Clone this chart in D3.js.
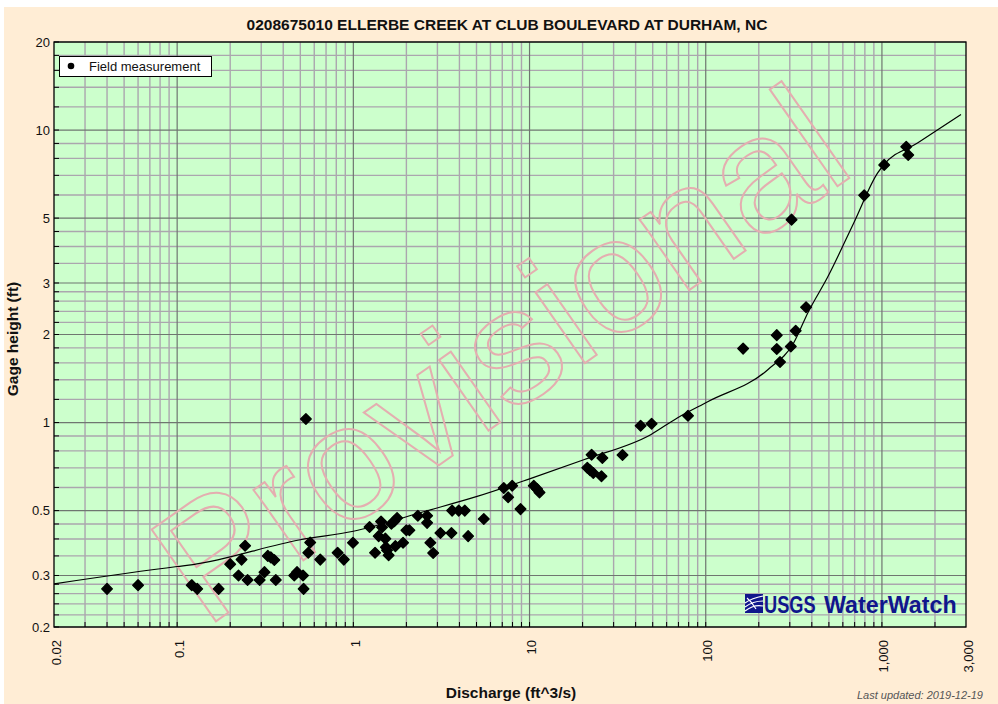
<!DOCTYPE html>
<html lang="en">
<head>
<meta charset="UTF-8">
<title>Ellerbe Creek rating</title>
<script src="https://d3js.org/d3.v7.min.js"></script>
<style>
  body { margin: 0; background: #fff; }
  text { font-family: "Liberation Sans", Arial, sans-serif; }
</style>
</head>
<body>
<svg width="998" height="704"></svg>
<script>
// field measurements (discharge ft^3/s, gage height ft)
const fieldQ = [0.040, 0.060, 0.121, 0.130, 0.172, 0.200, 0.223, 0.232, 0.243, 0.251,
  0.294, 0.313, 0.327, 0.340, 0.356, 0.363, 0.462, 0.479, 0.518, 0.522,
  0.538, 0.569, 0.555, 0.649, 0.814, 0.883, 0.995, 1.236, 1.328, 1.436,
  1.455, 1.392, 1.519, 1.644, 1.709, 1.771, 1.53, 1.553, 1.586, 1.732,
  1.915, 2.0, 2.08, 2.323, 2.622, 2.622, 2.736, 2.838, 3.12, 3.604,
  3.636, 3.963, 4.29, 4.483, 5.50, 7.14, 7.97, 7.56, 8.89, 10.57,
  11.03, 11.39, 22.5, 25.9, 21.27, 22.06, 23.0, 25.6, 33.7, 42.7,
  49.3, 79.3, 163, 253, 253, 264, 304, 324, 371, 307,
  793, 1030, 1374, 1410];
const fieldH = [0.270, 0.278, 0.278, 0.270, 0.270, 0.328, 0.300, 0.340, 0.379, 0.2895,
  0.2895, 0.308, 0.350, 0.346, 0.339, 0.2895, 0.300, 0.308, 0.300, 0.270,
  1.028, 0.389, 0.359, 0.340, 0.359, 0.340, 0.388, 0.4395, 0.359, 0.459,
  0.439, 0.409, 0.401, 0.451, 0.460, 0.472, 0.375, 0.366, 0.352, 0.378,
  0.388, 0.4285, 0.4285, 0.480, 0.480, 0.454, 0.388, 0.358, 0.419, 0.419,
  0.50, 0.50, 0.50, 0.409, 0.468, 0.597, 0.608, 0.5555, 0.506, 0.608,
  0.593, 0.577, 0.776, 0.757, 0.701, 0.687, 0.672, 0.655, 0.775, 0.975,
  0.991, 1.055, 1.79, 1.99, 1.784, 1.61, 1.82, 2.06, 2.48, 4.94,
  5.98, 7.60, 8.77, 8.22];

// rating curve
const ratingQ = [0.02, 0.1, 0.123, 0.5, 1.0, 2.62, 5.04, 10.1, 20.3, 48.7,
  69.3, 102.6, 225, 316, 380, 493, 693, 948, 1026, 1600, 2810];
const ratingH = [0.281, 0.322, 0.327, 0.3975, 0.425, 0.4995, 0.559, 0.643, 0.746, 0.909,
  1.039, 1.178, 1.516, 1.875, 2.375, 3.15, 4.82, 7.15, 7.61, 9.05, 11.3];

const xTickLabels = [0.02, 0.1, 1, 10, 100, 1000, 3000];
const xMajor = [0.1, 1, 10, 100, 1000];
const xMinor = [0.03, 0.04, 0.05, 0.06, 0.07, 0.08, 0.09,
  0.2, 0.3, 0.4, 0.5, 0.6, 0.7, 0.8, 0.9,
  2, 3, 4, 5, 6, 7, 8, 9,
  20, 30, 40, 50, 60, 70, 80, 90,
  200, 300, 400, 500, 600, 700, 800, 900, 2000];
const yTickLabels = [0.2, 0.3, 0.5, 1, 2, 3, 5, 10, 20];
const yMinor = [0.22, 0.24, 0.26, 0.28, 0.35, 0.4, 0.45, 0.6, 0.7, 0.8, 0.9,
  1.2, 1.4, 1.6, 1.8, 2.2, 2.4, 2.6, 2.8, 3.5, 4, 4.5, 6, 7, 8, 9,
  12, 14, 16, 18];

const svg = d3.select('svg');
const plotL = 54, plotR = 966, plotT = 42, plotB = 627;

const x = d3.scaleLog().domain([0.02, 3000]).range([plotL, plotR]);
const y = d3.scaleLog().domain([0.2, 20]).range([plotB, plotT]);

// page background
svg.append('rect').attr('x', 4).attr('y', 7).attr('width', 994).attr('height', 697)
  .attr('fill', '#ffedd5');

// plot area
svg.append('rect').attr('x', plotL).attr('y', plotT)
  .attr('width', plotR - plotL).attr('height', plotB - plotT)
  .attr('fill', '#ccffcc');

svg.append('clipPath').attr('id', 'plotclip')
  .append('rect').attr('x', plotL).attr('y', plotT)
  .attr('width', plotR - plotL).attr('height', plotB - plotT);

const grid = svg.append('g');
grid.selectAll('.xmin').data(xMinor).enter().append('line')
  .attr('x1', d => x(d)).attr('x2', d => x(d))
  .attr('y1', plotT).attr('y2', plotB)
  .attr('stroke', '#aba6ae').attr('stroke-width', 1.4);
grid.selectAll('.ymin').data(yMinor).enter().append('line')
  .attr('y1', d => y(d)).attr('y2', d => y(d))
  .attr('x1', plotL).attr('x2', plotR)
  .attr('stroke', '#aba6ae').attr('stroke-width', 1.4);
grid.selectAll('.xmaj').data(xMajor).enter().append('line')
  .attr('x1', d => x(d)).attr('x2', d => x(d))
  .attr('y1', plotT).attr('y2', plotB)
  .attr('stroke', '#6f7670').attr('stroke-width', 1.2);
grid.selectAll('.ymaj').data(yTickLabels).enter().append('line')
  .attr('y1', d => y(d)).attr('y2', d => y(d))
  .attr('x1', plotL).attr('x2', plotR)
  .attr('stroke', '#6f7670').attr('stroke-width', 1.2);

// provisional watermark
svg.append('g').attr('clip-path', 'url(#plotclip)')
  .append('text')
  .attr('transform', 'translate(205,629) rotate(-35)')
  .attr('font-size', 163)
  .attr('fill', 'none')
  .attr('stroke', '#e4aeb0')
  .attr('stroke-width', 2)
  .text('Provisional');

// inner ticks
const ticks = svg.append('g').attr('stroke', '#000');
ticks.selectAll('.yt').data(yTickLabels.concat(yMinor)).enter().append('line')
  .attr('x1', plotL).attr('x2', plotL + 5)
  .attr('y1', d => y(d)).attr('y2', d => y(d));
ticks.selectAll('.xt').data(xMajor.concat(xMinor)).enter().append('line')
  .attr('x1', d => x(d)).attr('x2', d => x(d))
  .attr('y1', plotB).attr('y2', plotB - 5);

// rating curve
const ratingPts = ratingQ.map((q, i) => [q, ratingH[i]]);
svg.append('path')
  .datum(ratingPts)
  .attr('clip-path', 'url(#plotclip)')
  .attr('fill', 'none')
  .attr('stroke', '#000')
  .attr('stroke-width', 1.2)
  .attr('d', d3.line().x(d => x(d[0])).y(d => y(d[1])).curve(d3.curveMonotoneX));

// field measurements
const diamond = 'M0,-5.3L5.3,0L0,5.3L-5.3,0Z';
svg.append('g').selectAll('path')
  .data(fieldQ.map((q, i) => [q, fieldH[i]]))
  .enter().append('path')
  .attr('d', diamond)
  .attr('transform', d => `translate(${x(d[0])},${y(d[1])})`)
  .attr('fill', '#000')
  .attr('stroke', '#000')
  .attr('stroke-linejoin', 'round')
  .attr('stroke-width', 1.4);

// frame
svg.append('rect').attr('x', plotL).attr('y', plotT)
  .attr('width', plotR - plotL).attr('height', plotB - plotT)
  .attr('fill', 'none').attr('stroke', '#000').attr('stroke-width', 1.3);

// tick labels
const fmt = d3.format(',');
svg.selectAll('.ylab').data(yTickLabels).enter().append('text')
  .attr('x', plotL - 4).attr('y', d => y(d)).attr('dy', '0.35em')
  .attr('text-anchor', 'end').attr('font-size', 13).attr('fill', '#111')
  .text(d => d);
svg.selectAll('.xlab').data(xTickLabels).enter().append('text')
  .attr('transform', d => `translate(${x(d) + 2},640) rotate(-90)`)
  .attr('dy', '0.35em')
  .attr('text-anchor', 'end').attr('font-size', 13).attr('fill', '#111')
  .text(d => fmt(d));

// titles
svg.append('text').attr('x', 507).attr('y', 30)
  .attr('text-anchor', 'middle').attr('font-size', 15.5).attr('font-weight', 'bold')
  .attr('fill', '#111')
  .text('0208675010 ELLERBE CREEK AT CLUB BOULEVARD AT DURHAM, NC');
svg.append('text').attr('x', 511).attr('y', 698)
  .attr('text-anchor', 'middle').attr('font-size', 15.5).attr('font-weight', 'bold')
  .attr('fill', '#111')
  .text('Discharge (ft^3/s)');
svg.append('text')
  .attr('transform', 'translate(18,339) rotate(-90)')
  .attr('text-anchor', 'middle').attr('font-size', 15.5).attr('font-weight', 'bold')
  .attr('fill', '#111')
  .text('Gage height (ft)');

svg.append('text').attr('x', 857).attr('y', 699)
  .attr('font-family', '"Liberation Mono", "DejaVu Sans Mono", monospace')
  .attr('font-style', 'italic').attr('font-size', 11).attr('fill', '#555')
  .text('Last updated: 2019-12-19');

// legend
const lg = svg.append('g');
lg.append('rect').attr('x', 59.5).attr('y', 56.5).attr('width', 152).attr('height', 20)
  .attr('fill', '#fff').attr('stroke', '#000');
lg.append('circle').attr('cx', 71).attr('cy', 66).attr('r', 3.3).attr('fill', '#000');
lg.append('text').attr('x', 89).attr('y', 71).attr('font-size', 13).attr('fill', '#111')
  .text('Field measurement');

// USGS WaterWatch logo
const logo = svg.append('g');
logo.append('rect').attr('x', 745).attr('y', 594).attr('width', 18).attr('height', 19)
  .attr('fill', '#10168c');
logo.append('path')
  .attr('d', 'M745,603 Q752,598 763,596 M745,607 Q753,601 763,601 M745,611 Q754,604 763,606 M747,598 Q752,602 756,609')
  .attr('fill', 'none').attr('stroke', '#fff').attr('stroke-width', 1.2);
logo.append('text')
  .attr('transform', 'translate(764,613) scale(0.76,1)')
  .attr('font-size', 24).attr('font-weight', 'bold').attr('fill', '#10168c')
  .text('USGS');
logo.append('text')
  .attr('transform', 'translate(824,613) scale(0.97,1)')
  .attr('font-size', 24).attr('font-weight', 'bold').attr('fill', '#10168c')
  .text('WaterWatch');
</script>
</body>
</html>
